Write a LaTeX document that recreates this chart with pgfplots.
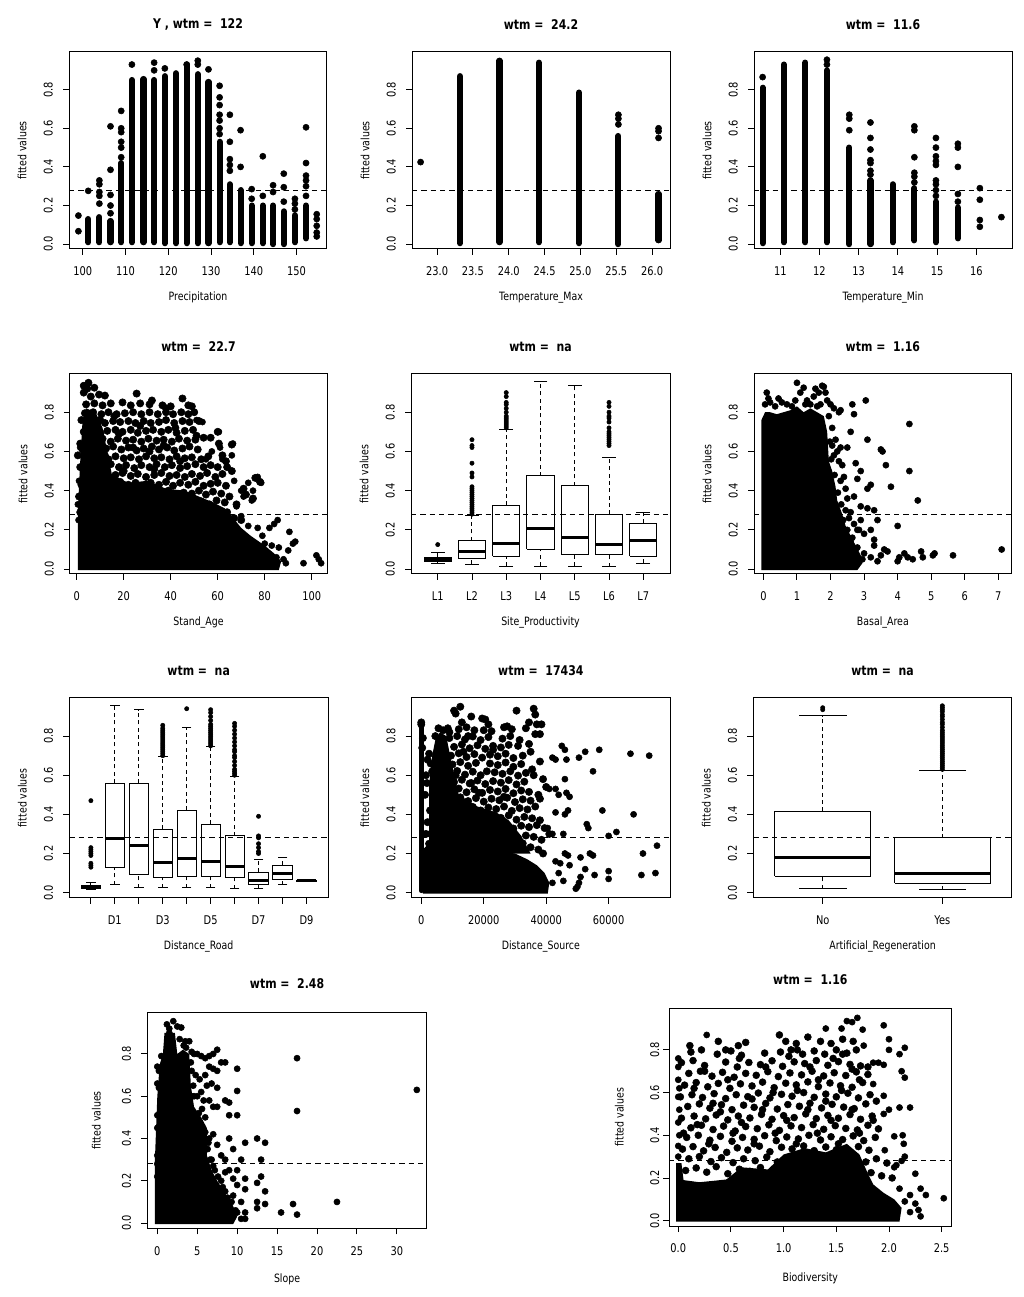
\documentclass[border=0pt]{standalone}
\usepackage{fontspec}
\setmainfont{DejaVu Sans}[FakeStretch=0.82]
\usepackage{pgfplots}
\pgfplotsset{compat=1.18}
\newcommand{\tickf}{\fontsize{9}{10}\selectfont}
\newcommand{\labf}{\fontsize{8.6}{10}\selectfont}
\newcommand{\titf}{\bfseries\fontsize{10}{11}\selectfont}
\pgfplotsset{
  ylab/.style={every axis y label/.style={at={(axis description cs:0,0.5)}, xshift=#1, rotate=90, anchor=center, font=\labf}},
  rp/.style={
    scale only axis, anchor=south west, clip=true,
    axis line style={line width=0.75pt, black},
    tick style={line width=0.7pt, black},
    tick align=outside, major tick length=4.5pt, tick pos=left,
    minor tick num=0, scaled x ticks=false, scaled y ticks=false,
    /pgf/number format/assume math mode=true,
    ymin=-0.025, ymax=0.995,
    ytick={0,0.2,0.4,0.6,0.8}, yticklabels={0.0,0.2,0.4,0.6,0.8},
    yticklabel style={rotate=90, anchor=south, font=\tickf},
    xticklabel style={font=\tickf},
    xticklabel shift=5.5pt, yticklabel shift=4.2pt,
    ylabel={fitted values},
    every axis x label/.style={at={(axis description cs:0.5,0)}, anchor=center, yshift=-36.4pt, font=\labf},
    ylab=-35.25pt,
    every axis title/.style={at={(axis description cs:0.5,1)}, anchor=center, yshift=20.5pt, font=\titf},
  },
  dashref/.style={black, line width=0.7pt, dash pattern=on 4pt off 3pt},
  col/.style={black, line width=4.6pt, line cap=round, unbounded coords=jump},
  dots/.style={only marks, mark=*, mark size=2.3pt, black, mark options={draw=none, fill=black}},
  odots/.style={only marks, mark=*, mark size=1.6pt, black, mark options={draw=none, fill=black}},
  blob/.style={draw=none, fill=black},
  bxs/.style={black, line width=0.75pt, unbounded coords=jump},
  meds/.style={black, line width=2.2pt, unbounded coords=jump},
  whs/.style={black, line width=0.75pt, dash pattern=on 3pt off 2.5pt, unbounded coords=jump},
  caps/.style={only marks, mark=-, black, mark options={line width=0.75pt}},
}
\begin{document}
\begin{tikzpicture}
\path[use as bounding box] (0,0) rectangle (768pt,972.75pt);

% ---------------- P1 Precipitation
\begin{axis}[rp, at={(51.75pt,786pt)}, width=193.5pt, height=147.75pt,
  xmin=96.8, xmax=157.1, xtick={100,110,120,130,140,150}, xticklabels={100,110,120,130,140,150},
  xlabel={Precipitation}, title={Y , wtm = \ 122}]
\addplot[dashref] coordinates {(96.8,0.28) (157.1,0.28)};
\addplot[col] coordinates {
(101.3,0.01)(101.3,0.13)(nan,nan)(103.9,0.01)(103.9,0.14)(nan,nan)(106.5,0.01)(106.5,0.12)(nan,nan)
(109.0,0.01)(109.0,0.42)(nan,nan)(111.5,0.01)(111.5,0.85)(nan,nan)(114.2,0.01)(114.2,0.855)(nan,nan)
(116.7,0.01)(116.7,0.85)(nan,nan)(119.2,0.005)(119.2,0.87)(nan,nan)(121.8,0.005)(121.8,0.885)(nan,nan)
(124.3,0.005)(124.3,0.93)(nan,nan)(126.9,0.005)(126.9,0.88)(nan,nan)(129.4,0.005)(129.4,0.84)(nan,nan)
(132.0,0.01)(132.0,0.53)(nan,nan)(134.4,0.01)(134.4,0.31)(nan,nan)(136.9,0.005)(136.9,0.28)(nan,nan)
(139.5,0.005)(139.5,0.2)(nan,nan)(142.1,0.005)(142.1,0.2)(nan,nan)(144.5,0.0)(144.5,0.2)(nan,nan)
(147.0,0.0)(147.0,0.17)(nan,nan)(149.6,0.01)(149.6,0.15)(nan,nan)(152.2,0.03)(152.2,0.2)};
\addplot[dots] coordinates {
(99.0,0.148)(99.0,0.067)(101.3,0.276)(103.9,0.21)(103.9,0.25)(103.9,0.27)(103.9,0.31)(103.9,0.33)
(106.5,0.16)(106.5,0.2)(106.5,0.255)(106.5,0.385)(106.5,0.61)(109.0,0.45)(109.0,0.5)(109.0,0.53)
(109.0,0.58)(109.0,0.6)(109.0,0.69)(111.5,0.93)(116.7,0.9)(116.7,0.94)(119.2,0.91)(124.3,0.93)
(126.9,0.93)(126.9,0.95)(129.4,0.905)(132.0,0.57)(132.0,0.6)(132.0,0.64)(132.0,0.67)(132.0,0.72)
(132.0,0.76)(132.0,0.82)(134.4,0.38)(134.4,0.41)(134.4,0.44)(134.4,0.53)(134.4,0.67)(136.9,0.40)
(136.9,0.59)(139.5,0.235)(139.5,0.285)(142.1,0.25)(142.1,0.455)(144.5,0.27)(144.5,0.305)(147.0,0.22)
(147.0,0.295)(147.0,0.365)(149.6,0.18)(149.6,0.21)(149.6,0.235)(152.2,0.25)(152.2,0.3)(152.2,0.33)
(152.2,0.355)(152.2,0.42)(152.2,0.605)(154.7,0.04)(154.7,0.06)(154.7,0.095)(154.7,0.13)(154.7,0.155)};
\end{axis}

% ---------------- P2 Temperature_Max
\begin{axis}[rp, at={(309pt,786pt)}, width=193.5pt, height=147.75pt,
  xmin=22.65, xmax=26.25, xtick={23,23.5,24,24.5,25,25.5,26}, xticklabels={23.0,23.5,24.0,24.5,25.0,25.5,26.0},
  xlabel={Temperature\_Max}, title={wtm = \ 24.2}]
\addplot[dashref] coordinates {(22.65,0.28) (26.25,0.28)};
\addplot[col] coordinates {
(23.32,0.005)(23.32,0.87)(nan,nan)(23.87,0.01)(23.87,0.95)(nan,nan)(24.42,0.01)(24.42,0.94)(nan,nan)
(24.98,0.005)(24.98,0.785)(nan,nan)(25.53,0.0)(25.53,0.56)(nan,nan)(26.09,0.02)(26.09,0.26)};
\addplot[dots] coordinates {(22.77,0.425)(25.53,0.62)(25.53,0.65)(25.53,0.67)(26.09,0.55)(26.09,0.585)(26.09,0.6)};
\end{axis}

% ---------------- P3 Temperature_Min
\begin{axis}[rp, at={(565.5pt,786pt)}, width=193.5pt, height=147.75pt,
  xmin=10.33, xmax=16.91, xtick={11,12,13,14,15,16}, xticklabels={11,12,13,14,15,16},
  xlabel={Temperature\_Min}, title={wtm = \ 11.6}]
\addplot[dashref] coordinates {(10.33,0.28) (16.91,0.28)};
\addplot[col] coordinates {
(10.55,0.005)(10.55,0.81)(nan,nan)(11.09,0.01)(11.09,0.93)(nan,nan)(11.64,0.01)(11.64,0.94)(nan,nan)
(12.19,0.01)(12.19,0.9)(nan,nan)(12.76,0.0)(12.76,0.5)(nan,nan)(13.30,0.0)(13.30,0.33)(nan,nan)
(13.87,0.01)(13.87,0.31)(nan,nan)(14.42,0.02)(14.42,0.29)(nan,nan)(14.97,0.01)(14.97,0.22)(nan,nan)
(15.53,0.03)(15.53,0.19)};
\addplot[dots] coordinates {
(10.55,0.865)(12.19,0.93)(12.19,0.955)(12.76,0.59)(12.76,0.65)(12.76,0.67)(13.30,0.36)(13.30,0.38)
(13.30,0.42)(13.30,0.435)(13.30,0.49)(13.30,0.55)(13.30,0.63)(14.42,0.32)(14.42,0.35)(14.42,0.37)
(14.42,0.45)(14.42,0.59)(14.42,0.61)(14.97,0.25)(14.97,0.28)(14.97,0.31)(14.97,0.33)(14.97,0.41)
(14.97,0.43)(14.97,0.455)(14.97,0.5)(14.97,0.55)(15.53,0.22)(15.53,0.26)(15.53,0.4)(15.53,0.5)
(15.53,0.52)(16.09,0.09)(16.09,0.125)(16.09,0.23)(16.09,0.29)(16.64,0.14)};
\end{axis}

% ---------------- P4 Stand_Age
\begin{axis}[rp, at={(52.5pt,542.25pt)}, width=192.75pt, height=150pt,
  xmin=-2.85, xmax=106.5, xtick={0,20,40,60,80,100}, xticklabels={0,20,40,60,80,100},
  xlabel={Stand\_Age}, title={wtm = \ 22.7}]
\addplot[dashref] coordinates {(-2.85,0.28) (106.5,0.28)};
\addplot[blob] coordinates {(0.5,-0.005)(0.5,0.3)(1.5,0.55)(2.5,0.76)(4,0.82)(8,0.8)(11,0.72)(13,0.6)(15,0.48)(22,0.44)(30,0.45)(38,0.41)(46,0.4)(52,0.37)(58,0.34)(63,0.31)(66,0.27)(70,0.21)(74,0.17)(80,0.12)(84,0.08)(87,0.04)(86,-0.005)};
\addplot[dots, mark size=2.75pt] coordinates {
(1.5,0.29)(4.5,0.30)(7.5,0.28)(10.5,0.30)(13,0.285)(16.5,0.3)(19.5,0.275)(22.5,0.3)(25.5,0.29)(29,0.275)(32,0.3)(35,0.285)(38.5,0.27)(41.5,0.3)(44.5,0.28)(48,0.29)(51,0.27)(54,0.3)(57.5,0.28)(60.5,0.27)(64,0.29)(67,0.26)(70,0.25)
(2.5,0.34)(6,0.345)(9,0.335)(12,0.35)(15,0.34)(18.5,0.33)(21,0.345)(24.5,0.35)(28,0.335)(31,0.345)(34,0.33)(37,0.35)(40.5,0.34)(43.5,0.33)(47,0.35)(50,0.335)(53,0.345)(56.5,0.33)(59.5,0.35)(63,0.34)(68,0.33)(72,0.38)(75,0.36)
(1,0.37)(4,0.39)(7.5,0.385)(10.5,0.395)(14,0.38)(17,0.39)(20,0.4)(23,0.385)(26.5,0.39)(29.5,0.38)(33,0.395)(36,0.385)(39,0.4)(42,0.38)(45.5,0.39)(49,0.385)(52,0.4)(55,0.38)(58,0.395)(61.5,0.385)(65,0.37)(71,0.41)
(2,0.43)(5.5,0.44)(9,0.425)(12,0.44)(15.5,0.43)(18.5,0.445)(22,0.43)(25,0.44)(28,0.425)(31.5,0.44)(35,0.43)(38,0.445)(41,0.425)(44,0.44)(47.5,0.43)(50.5,0.445)(54,0.425)(57,0.435)(60,0.44)(63.5,0.425)(76,0.465)(78,0.445)
(3,0.48)(6.5,0.475)(10,0.485)(13,0.47)(16.5,0.48)(19.5,0.49)(23,0.475)(26,0.485)(29.5,0.47)(33,0.48)(36,0.49)(39.5,0.475)(42.5,0.48)(46,0.47)(49,0.485)(52.5,0.475)(55.5,0.49)(59,0.47)(62,0.485)(66,0.5)
(1.5,0.52)(5,0.53)(8,0.515)(11.5,0.525)(14.5,0.535)(18,0.52)(21,0.53)(24.5,0.515)(27.5,0.53)(31,0.52)(34,0.535)(37.5,0.52)(40.5,0.53)(44,0.515)(47,0.525)(50.5,0.535)(54,0.52)(57,0.53)(60,0.52)(64,0.52)
(0.5,0.58)(3.5,0.57)(7,0.565)(10,0.575)(13.5,0.56)(16.5,0.575)(20,0.565)(23,0.57)(26.5,0.56)(29.5,0.575)(33,0.565)(36,0.57)(39.5,0.56)(42.5,0.575)(46,0.565)(49,0.57)(53,0.56)(56,0.575)(62,0.58)(63.5,0.55)
(2.5,0.61)(6,0.62)(9,0.605)(12.5,0.615)(15.5,0.625)(19,0.61)(22,0.62)(25.5,0.605)(28.5,0.615)(32,0.625)(35,0.61)(38.5,0.62)(41.5,0.605)(45,0.615)(48,0.625)(51.5,0.61)(60.5,0.64)(66,0.635)
(1.5,0.64)(4.5,0.665)(8,0.655)(11,0.665)(14.5,0.65)(17.5,0.665)(21,0.655)(24,0.66)(27.5,0.65)(30.5,0.665)(34,0.655)(37,0.66)(40.5,0.65)(43.5,0.665)(47,0.655)(50.5,0.66)(54,0.67)(57,0.67)
(3,0.70)(6.5,0.71)(10,0.695)(13,0.705)(16.5,0.71)(19.5,0.7)(23,0.71)(26,0.695)(29.5,0.705)(32.5,0.71)(36,0.7)(39,0.71)(42.5,0.695)(46,0.705)(49.5,0.71)(60,0.70)
(2,0.76)(5.5,0.745)(9,0.755)(12,0.745)(15.5,0.755)(18.5,0.75)(22,0.755)(25,0.745)(28.5,0.755)(31.5,0.745)(35,0.75)(38,0.76)(41.5,0.745)(45,0.755)(48,0.75)(52,0.755)
(3.5,0.795)(7,0.8)(10.5,0.79)(13.5,0.8)(17,0.79)(20.5,0.795)(24,0.8)(27.5,0.79)(31,0.8)(34.5,0.79)(38,0.8)(41,0.79)(44.5,0.8)(47.5,0.79)(50,0.8)
(4,0.84)(7.5,0.845)(11,0.835)(14.5,0.845)(19.5,0.85)(23,0.835)(27,0.845)(31,0.84)(36.5,0.835)(40,0.83)(45,0.87)(47.5,0.835)(49,0.83)
(3,0.9)(6,0.88)(9.5,0.89)(12,0.885)(25.5,0.895)(32,0.86)(38,0.82)(3,0.935)(5,0.95)(7.5,0.925)(4.5,0.92)
(5,0.6)(8.5,0.68)(12,0.58)(18,0.69)(27,0.73)(31,0.6)(42,0.72)(44,0.55)(20,0.5)(33,0.51)(8,0.5)(5,0.72)(10,0.76)(16,0.78)(24,0.62)(37,0.63)(51,0.68)(14,0.45)};
\addplot[dots] coordinates {
(70,0.27)(73,0.22)(77,0.21)(79,0.17)(80,0.13)(82,0.21)(84,0.23)(85.5,0.25)(83,0.12)(86,0.11)(88,0.05)(90,0.095)(90.5,0.19)(92,0.13)(93,0.14)(96.5,0.03)(102,0.07)(103,0.05)(104,0.03)(89,0.03)(85,0.06)(81,0.06)
(68,0.32)(71,0.37)(74.5,0.35)(67,0.45)(66,0.58)(62,0.56)(61,0.62)(57.5,0.6)(55,0.56)(53.5,0.75)(51,0.76)(60.5,0.7)(66.5,0.64)(77,0.47)(78.5,0.44)(75,0.4)(73,0.44)(70,0.4)
(0.5,0.33)(0.8,0.25)(1,0.45)(1.5,0.62)};
\end{axis}

% ---------------- P5 Site_Productivity
\begin{axis}[rp, at={(308.25pt,542.25pt)}, width=194.25pt, height=150pt,
  xmin=0.22, xmax=7.78, xtick={1,2,3,4,5,6,7}, xticklabels={L1,L2,L3,L4,L5,L6,L7},
  xlabel={Site\_Productivity}, title={wtm = \ na}]
\addplot[bxs] coordinates {
(0.6,0.04)(1.4,0.04)(1.4,0.06)(0.6,0.06)(0.6,0.04)(nan,nan)
(1.6,0.055)(2.4,0.055)(2.4,0.145)(1.6,0.145)(1.6,0.055)(nan,nan)
(2.6,0.065)(3.4,0.065)(3.4,0.325)(2.6,0.325)(2.6,0.065)(nan,nan)
(3.6,0.1)(4.4,0.1)(4.4,0.475)(3.6,0.475)(3.6,0.1)(nan,nan)
(4.6,0.075)(5.4,0.075)(5.4,0.425)(4.6,0.425)(4.6,0.075)(nan,nan)
(5.6,0.072)(6.4,0.072)(6.4,0.28)(5.6,0.28)(5.6,0.072)(nan,nan)
(6.6,0.065)(7.4,0.065)(7.4,0.235)(6.6,0.235)(6.6,0.065)};
\addplot[meds] coordinates {(0.6,0.05)(1.4,0.05)(nan,nan)(1.6,0.088)(2.4,0.088)(nan,nan)(2.6,0.13)(3.4,0.13)(nan,nan)(3.6,0.205)(4.4,0.205)(nan,nan)(4.6,0.16)(5.4,0.16)(nan,nan)(5.6,0.125)(6.4,0.125)(nan,nan)(6.6,0.145)(7.4,0.145)};
\addplot[whs] coordinates {
(1,0.03)(1,0.04)(nan,nan)(1,0.06)(1,0.085)(nan,nan)(2,0.025)(2,0.055)(nan,nan)(2,0.145)(2,0.272)(nan,nan)
(3,0.015)(3,0.065)(nan,nan)(3,0.325)(3,0.71)(nan,nan)(4,0.015)(4,0.1)(nan,nan)(4,0.475)(4,0.955)(nan,nan)
(5,0.015)(5,0.075)(nan,nan)(5,0.425)(5,0.935)(nan,nan)(6,0.012)(6,0.072)(nan,nan)(6,0.28)(6,0.57)(nan,nan)
(7,0.03)(7,0.065)(nan,nan)(7,0.235)(7,0.29)};
\addplot[caps, mark size=5.1pt] coordinates {(1,0.03)(1,0.085)(2,0.025)(2,0.272)(3,0.015)(3,0.71)(4,0.015)(4,0.955)(5,0.015)(5,0.935)(6,0.012)(6,0.57)(7,0.03)(7,0.29)};
\addplot[odots] coordinates {(1,0.125)
(2,0.28)(2,0.29)(2,0.30)(2,0.31)(2,0.32)(2,0.33)(2,0.34)(2,0.35)(2,0.36)(2,0.37)(2,0.38)(2,0.39)(2,0.40)(2,0.41)(2,0.42)(2,0.47)(2,0.49)(2,0.54)(2,0.62)(2,0.63)(2,0.66)
(3,0.72)(3,0.73)(3,0.74)(3,0.75)(3,0.76)(3,0.77)(3,0.78)(3,0.8)(3,0.82)(3,0.84)(3,0.85)(3,0.88)(3,0.9)
(6,0.63)(6,0.64)(6,0.65)(6,0.66)(6,0.67)(6,0.68)(6,0.69)(6,0.70)(6,0.72)(6,0.75)(6,0.77)(6,0.78)(6,0.8)(6,0.83)(6,0.85)};
\addplot[dashref] coordinates {(0.22,0.28) (7.78,0.28)};
\end{axis}

% ---------------- P6 Basal_Area
\begin{axis}[rp, at={(565.5pt,542.25pt)}, width=193.3pt, height=150pt,
  xmin=-0.28, xmax=7.4, xtick={0,1,2,3,4,5,6,7}, xticklabels={0,1,2,3,4,5,6,7},
  xlabel={Basal\_Area}, title={wtm = \ 1.16}]
\addplot[dashref] coordinates {(-0.28,0.28) (7.4,0.28)};
\addplot[blob] coordinates {(-0.06,-0.005)(-0.06,0.76)(0.05,0.8)(0.2,0.8)(0.4,0.79)(0.6,0.8)(0.8,0.81)(1.0,0.83)(1.2,0.8)(1.4,0.82)(1.6,0.8)(1.8,0.78)(1.9,0.7)(1.95,0.55)(2.05,0.5)(2.15,0.42)(2.2,0.35)(2.35,0.28)(2.45,0.22)(2.6,0.17)(2.75,0.12)(2.9,0.07)(2.95,0.03)(2.8,-0.005)};
\addplot[dots] coordinates {
(0.1,0.9)(0.15,0.87)(0.05,0.84)(0.2,0.85)(0.35,0.83)(0.45,0.87)(0.55,0.85)(0.7,0.84)(0.85,0.83)(0.95,0.86)(1.0,0.95)(1.1,0.9)(1.2,0.925)(1.3,0.86)(1.4,0.84)(1.5,0.88)(1.55,0.92)(1.65,0.9)(1.75,0.935)(1.8,0.93)(1.85,0.9)(1.9,0.86)(1.7,0.84)(1.6,0.83)(1.25,0.84)
(1.95,0.78)(2.0,0.84)(2.1,0.82)(2.25,0.8)(2.3,0.81)(2.05,0.72)(2.15,0.66)(2.2,0.6)(2.3,0.62)(2.25,0.55)(2.35,0.53)(2.4,0.47)(2.3,0.45)(2.45,0.41)(2.5,0.36)(2.05,0.63)(2.1,0.58)(2.45,0.3)(2.55,0.26)(2.6,0.29)(2.7,0.23)(2.85,0.2)
(2.5,0.62)(2.6,0.7)(2.65,0.84)(2.7,0.79)(2.75,0.54)(2.8,0.46)(2.7,0.37)(2.9,0.5)(3.05,0.86)(3.1,0.66)(2.9,0.32)(3.1,0.41)(3.2,0.43)(3.1,0.31)(3.3,0.3)(3.5,0.61)(3.55,0.6)(3.65,0.53)(3.8,0.42)(4.0,0.22)(3.4,0.25)(4.35,0.74)(4.35,0.5)(4.6,0.35)
(3.3,0.15)(3.2,0.2)(3.5,0.07)(3.6,0.1)(3.7,0.09)(3.4,0.04)(3.0,0.08)(3.2,0.06)(4.0,0.04)(4.05,0.06)(4.2,0.08)(4.3,0.06)(4.45,0.05)(4.75,0.06)(4.7,0.09)(5.05,0.07)(5.1,0.08)(5.65,0.07)(7.1,0.1)(2.9,0.25)(2.8,0.2)(2.6,0.14)(2.75,0.1)(3.0,0.18)(3.3,0.12)
(1.98,0.65)(2.02,0.56)(2.12,0.48)(2.22,0.39)(2.32,0.33)(2.5,0.2)(2.65,0.16)(2.8,0.11)(2.95,0.05)(2.38,0.25)};
\end{axis}

% ---------------- P7 Distance_Road
\begin{axis}[rp, at={(52pt,299.6pt)}, width=194pt, height=149.7pt,
  xmin=0.1, xmax=10.9, xtick={1,2,3,4,5,6,7,8,9,10}, xticklabels={,D1,,D3,,D5,,D7,,D9},
  xlabel={Distance\_Road}, title={wtm = \ na}]
\addplot[bxs] coordinates {
(0.6,0.02)(1.4,0.02)(1.4,0.035)(0.6,0.035)(0.6,0.02)(nan,nan)
(1.6,0.13)(2.4,0.13)(2.4,0.56)(1.6,0.56)(1.6,0.13)(nan,nan)
(2.6,0.095)(3.4,0.095)(3.4,0.56)(2.6,0.56)(2.6,0.095)(nan,nan)
(3.6,0.075)(4.4,0.075)(4.4,0.325)(3.6,0.325)(3.6,0.075)(nan,nan)
(4.6,0.083)(5.4,0.083)(5.4,0.42)(4.6,0.42)(4.6,0.083)(nan,nan)
(5.6,0.08)(6.4,0.08)(6.4,0.35)(5.6,0.35)(5.6,0.08)(nan,nan)
(6.6,0.077)(7.4,0.077)(7.4,0.29)(6.6,0.29)(6.6,0.077)(nan,nan)
(7.6,0.04)(8.4,0.04)(8.4,0.105)(7.6,0.105)(7.6,0.04)(nan,nan)
(8.6,0.065)(9.4,0.065)(9.4,0.14)(8.6,0.14)(8.6,0.065)(nan,nan)
(9.6,0.058)(10.4,0.058)(10.4,0.062)(9.6,0.062)(9.6,0.058)};
\addplot[meds] coordinates {(0.6,0.027)(1.4,0.027)(nan,nan)(1.6,0.275)(2.4,0.275)(nan,nan)(2.6,0.24)(3.4,0.24)(nan,nan)(3.6,0.155)(4.4,0.155)(nan,nan)(4.6,0.175)(5.4,0.175)(nan,nan)(5.6,0.16)(6.4,0.16)(nan,nan)(6.6,0.135)(7.4,0.135)(nan,nan)(7.6,0.06)(8.4,0.06)(nan,nan)(8.6,0.1)(9.4,0.1)(nan,nan)(9.6,0.06)(10.4,0.06)};
\addplot[whs] coordinates {
(1,0.015)(1,0.02)(nan,nan)(1,0.035)(1,0.05)(nan,nan)(2,0.04)(2,0.13)(nan,nan)(2,0.56)(2,0.955)(nan,nan)
(3,0.025)(3,0.095)(nan,nan)(3,0.56)(3,0.935)(nan,nan)(4,0.025)(4,0.075)(nan,nan)(4,0.325)(4,0.695)(nan,nan)
(5,0.025)(5,0.083)(nan,nan)(5,0.42)(5,0.845)(nan,nan)(6,0.025)(6,0.08)(nan,nan)(6,0.35)(6,0.745)(nan,nan)
(7,0.02)(7,0.077)(nan,nan)(7,0.29)(7,0.595)(nan,nan)(8,0.02)(8,0.04)(nan,nan)(8,0.105)(8,0.17)(nan,nan)
(9,0.04)(9,0.065)(nan,nan)(9,0.14)(9,0.18)};
\addplot[caps, mark size=3.6pt] coordinates {(1,0.015)(1,0.05)(2,0.04)(2,0.955)(3,0.025)(3,0.935)(4,0.025)(4,0.695)(5,0.025)(5,0.845)(6,0.025)(6,0.745)(7,0.02)(7,0.595)(8,0.02)(8,0.17)(9,0.04)(9,0.18)};
\addplot[odots] coordinates {
(1,0.13)(1,0.14)(1,0.15)(1,0.19)(1,0.2)(1,0.21)(1,0.22)(1,0.23)(1,0.47)
(4,0.70)(4,0.71)(4,0.72)(4,0.73)(4,0.74)(4,0.75)(4,0.76)(4,0.77)(4,0.78)(4,0.79)(4,0.80)(4,0.81)(4,0.82)(4,0.83)(4,0.84)(4,0.855)
(5,0.94)
(6,0.75)(6,0.76)(6,0.77)(6,0.78)(6,0.79)(6,0.80)(6,0.81)(6,0.82)(6,0.83)(6,0.84)(6,0.85)(6,0.86)(6,0.88)(6,0.90)(6,0.92)(6,0.935)
(7,0.60)(7,0.61)(7,0.62)(7,0.63)(7,0.65)(7,0.67)(7,0.69)(7,0.70)(7,0.72)(7,0.73)(7,0.75)(7,0.77)(7,0.79)(7,0.81)(7,0.83)(7,0.85)(7,0.865)
(8,0.2)(8,0.21)(8,0.23)(8,0.25)(8,0.28)(8,0.29)(8,0.39)};
\addplot[dashref] coordinates {(0.1,0.28) (10.9,0.28)};
\end{axis}

% ---------------- P8 Distance_Source
\begin{axis}[rp, at={(308.8pt,299.6pt)}, width=193.7pt, height=149.7pt,
  xmin=-3060, xmax=79660, xtick={0,20000,40000,60000}, xticklabels={0,20000,40000,60000},
  xlabel={Distance\_Source}, title={wtm = \ 17434}]
\addplot[dashref] coordinates {(-3060,0.28) (79660,0.28)};
\addplot[blob] coordinates {(500,-0.005)(500,0.22)(3000,0.26)(8000,0.24)(14000,0.22)(20000,0.23)(26000,0.21)(30000,0.2)(34000,0.17)(37000,0.14)(39500,0.1)(41000,0.05)(40500,-0.005)};
\addplot[blob] coordinates {(2500,0.2)(2500,0.55)(3500,0.7)(4500,0.78)(6000,0.82)(8000,0.8)(9500,0.68)(12000,0.5)(18000,0.44)(24000,0.41)(28000,0.37)(32000,0.29)(35000,0.2)};
\addplot[col, line width=3.6pt] coordinates {(0,0.01)(0,0.85)};
\addplot[dots, mark size=2.75pt] coordinates {
(10000,.25)(12500,.262)(15000,.243)(17500,.258)(20000,.24)(22500,.255)(25000,.247)(27500,.26)(30000,.238)(32500,.252)(35000,.232)(37500,.22)(39000,.2)
(11000,.29)(13500,.302)(16000,.283)(18500,.298)(21000,.28)(23500,.295)(26000,.287)(28500,.3)(31000,.278)(33500,.292)(36000,.285)(38500,.27)(41000,.3)
(9500,.34)(12000,.352)(14500,.333)(17000,.348)(19500,.33)(22000,.345)(24500,.337)(27000,.35)(29500,.328)(32000,.342)(34500,.335)(37000,.345)(39500,.33)
(10500,.385)(13000,.397)(15500,.378)(18000,.393)(20500,.375)(23000,.39)(25500,.382)(28000,.395)(30500,.373)(33000,.387)(35500,.38)(38000,.37)
(9000,.43)(11500,.442)(14000,.423)(16500,.438)(19000,.42)(21500,.435)(24000,.427)(26500,.44)(29000,.418)(31500,.432)(34000,.425)(36500,.44)
(10000,.475)(12500,.487)(15000,.468)(17500,.483)(20000,.465)(22500,.48)(25000,.472)(27500,.485)(30000,.463)(32500,.477)(35000,.47)(38000,.48)
(9500,.52)(12000,.532)(14500,.513)(17000,.528)(19500,.51)(22000,.525)(24500,.517)(27000,.53)(29500,.508)(32000,.522)(34500,.515)(37500,.5)(40000,.54)
(10500,.565)(13000,.577)(15500,.558)(18000,.573)(20500,.555)(23000,.57)(25500,.562)(28000,.575)(30500,.553)(33000,.567)(36000,.6)(39000,.58)
(9000,.61)(11500,.622)(14000,.603)(16500,.618)(19000,.6)(23500,.615)(26000,.607)(28500,.62)(31000,.598)(33500,.612)(35500,.63)
(10000,.655)(12500,.667)(15000,.648)(17500,.663)(22000,.66)(24500,.652)(27000,.665)(29500,.643)(32000,.657)(38000,.67)
(9500,.70)(12000,.712)(14500,.693)(17000,.708)(19500,.69)(22000,.705)(24500,.697)(27000,.71)(29500,.688)(32500,.70)(35000,.72)
(10500,.745)(13000,.757)(15500,.738)(18000,.753)(20500,.735)(23000,.75)(25500,.742)(28000,.755)(31000,.75)(34500,.76)
(9000,.79)(11500,.80)(14000,.783)(16500,.798)(19000,.78)(21500,.795)(26000,.787)(28500,.80)(31500,.78)(36500,.81)(38000,.81)
(12000,.835)(14500,.845)(17000,.83)(20000,.83)(22500,.825)(26500,.845)(29000,.835)(33500,.84)(37000,.86)
(13000,.87)(16000,.9)(19500,.89)(21500,.86)(27500,.85)(34500,.87)(38500,.86)(10500,.93)(11000,.915)(12500,.95)(30500,.93)(36000,.94)(36500,.91)(20500,.885)
(1500,.6)(2000,.68)(1200,.5)(2500,.71)(1800,.56)(1500,.3)(2000,.36)(2800,.42)(3500,.62)(3000,.66)(4500,.8)(5500,.84)(7000,.83)(8500,.84)(9000,.82)(0,.87)(0,.86)(500,.79)(300,.74)(3000,.3)(2500,.25)
(11000,.6)(16000,.56)(21000,.62)(13500,.72)(18500,.51)(26500,.49)(23000,.73)(15000,.8)(11000,.45)};
\addplot[dots] coordinates {
(42000,0.69)(43000,0.68)(45000,0.75)(46000,0.73)(46500,0.68)(50500,0.69)(52500,0.72)(57000,0.73)(67000,0.71)(73000,0.7)(55000,0.62)(40000,0.54)(41000,0.53)(43000,0.53)(44000,0.5)(46000,0.58)(46500,0.51)(47500,0.49)(46000,0.4)(47000,0.42)(43000,0.41)(58000,0.42)(68000,0.4)(53000,0.35)(53500,0.33)(62500,0.31)(60000,0.29)(45500,0.3)(40500,0.33)(42000,0.3)
(71000,0.2)(75500,0.24)(46000,0.2)(47000,0.19)(51000,0.18)(54000,0.2)(55000,0.19)(43000,0.16)(44500,0.15)(47500,0.14)(52500,0.12)(51000,0.08)(55500,0.09)(60000,0.11)(60000,0.07)(70500,0.09)(75000,0.1)(50000,0.03)(49500,0.02)(50500,0.05)(44000,0.1)(45500,0.06)(42000,0.05)};
\end{axis}

% ---------------- P9 Artificial_Regeneration
\begin{axis}[rp, at={(565pt,299.6pt)}, width=193.8pt, height=149.7pt,
  xmin=0.42, xmax=2.58, xtick={1,2}, xticklabels={No,Yes},
  xlabel={Artificial\_Regeneration}, title={wtm = \ na}]
\addplot[bxs] coordinates {(0.6,0.085)(1.4,0.085)(1.4,0.415)(0.6,0.415)(0.6,0.085)(nan,nan)(1.6,0.048)(2.4,0.048)(2.4,0.28)(1.6,0.28)(1.6,0.048)};
\addplot[meds] coordinates {(0.6,0.18)(1.4,0.18)(nan,nan)(1.6,0.1)(2.4,0.1)};
\addplot[whs] coordinates {(1,0.02)(1,0.085)(nan,nan)(1,0.415)(1,0.905)(nan,nan)(2,0.015)(2,0.048)(nan,nan)(2,0.28)(2,0.625)};
\addplot[caps, mark size=17.85pt] coordinates {(1,0.02)(1,0.905)(2,0.015)(2,0.625)};
\addplot[odots] coordinates {(1,0.935)(1,0.945)
(2,0.63)(2,0.64)(2,0.65)(2,0.66)(2,0.67)(2,0.68)(2,0.69)(2,0.70)(2,0.71)(2,0.72)(2,0.73)(2,0.74)(2,0.75)(2,0.76)(2,0.77)(2,0.78)(2,0.79)(2,0.80)(2,0.81)(2,0.82)(2,0.83)(2,0.845)(2,0.86)(2,0.87)(2,0.885)(2,0.9)(2,0.91)(2,0.925)(2,0.935)(2,0.945)(2,0.955)};
\addplot[dashref] coordinates {(0.42,0.28) (2.58,0.28)};
\end{axis}

% ---------------- P10 Slope
\begin{axis}[rp, at={(110.5pt,51.5pt)}, width=209.6pt, height=161.7pt,
  xmin=-1.25, xmax=33.75, xtick={0,5,10,15,20,25,30}, xticklabels={0,5,10,15,20,25,30},
  xlabel={Slope}, title={wtm = \ 2.48}, ylab=-38.3pt,
  every axis x label/.append style={yshift=-1.7pt}, every axis title/.append style={yshift=1.5pt}]
\addplot[dashref] coordinates {(-1.25,0.28) (33.75,0.28)};
\addplot[blob] coordinates {(-0.3,-0.005)(-0.3,0.3)(0,0.6)(0.3,0.75)(0.7,0.8)(0.9,0.9)(2.2,0.9)(2.5,0.8)(3.2,0.82)(4.0,0.8)(4.2,0.65)(4.6,0.55)(5.5,0.5)(6.2,0.45)(6.2,0.32)(6.8,0.25)(7.5,0.2)(8.5,0.14)(9.5,0.08)(10,0.03)(9.5,-0.005)};
\addplot[dots] coordinates {
(0,0.74)(0,0.66)(0,0.51)(0,0.45)(0,0.32)(0,0.28)(0,0.22)(0.2,0.64)
(0.5,0.79)(1.2,0.94)(1.5,0.92)(1.5,0.9)(2.0,0.955)(2.5,0.93)(3.0,0.925)(2.8,0.87)(3.3,0.84)(3.6,0.83)(4.0,0.86)(4.3,0.81)(4.6,0.8)(5.0,0.8)(5.5,0.79)(6.0,0.78)(6.5,0.79)(7.0,0.8)(7.5,0.82)
(6.0,0.7)(6.5,0.74)(7.0,0.73)(7.5,0.72)(8.0,0.76)(8.5,0.76)(6.2,0.65)(6.8,0.66)(7.5,0.64)(5.5,0.62)(5.0,0.6)(4.5,0.65)(4.8,0.7)(5.3,0.68)(5.8,0.58)(6.5,0.58)(7.0,0.55)(7.5,0.55)(4.6,0.6)(4.3,0.72)
(10,0.73)(10,0.625)(8.5,0.58)(9.0,0.57)(9.0,0.51)(10,0.51)(7.0,0.42)(7.5,0.37)(8.0,0.32)(8.5,0.3)(9.5,0.35)(9.0,0.4)(10.5,0.3)(11,0.38)(12.5,0.4)(13.5,0.38)(13,0.3)(11,0.21)(12.5,0.19)(13,0.22)
(10,0.25)(9,0.25)(9.5,0.21)(8.5,0.24)(6.5,0.4)(6.3,0.35)(6.8,0.3)(7.2,0.25)(8.0,0.2)(7.0,0.18)(8.5,0.15)(9.5,0.13)(10,0.18)(10.5,0.1)(11,0.16)(11,0.05)(10,0.05)(12.5,0.07)(12.5,0.1)(13.5,0.09)(13.5,0.15)
(15.5,0.05)(17,0.09)(17.5,0.04)(22.5,0.1)(17.5,0.78)(17.5,0.53)(32.5,0.63)(9,0.08)(8.5,0.05)(10.5,0.02)(11,0.02)
(5.2,0.52)(5.6,0.54)(6.0,0.5)(5.0,0.45)(5.8,0.4)(4.8,0.38)(5.5,0.33)
(4.3,0.6)(4.6,0.5)(5.0,0.48)(5.5,0.46)(6.0,0.43)(6.4,0.38)(6.6,0.3)(7.0,0.27)(7.6,0.22)(8.2,0.17)(8.8,0.12)(9.3,0.1)(9.8,0.06)(3.5,0.86)(4.2,0.76)(0.2,0.72)};
\end{axis}

% ---------------- P11 Biodiversity
\begin{axis}[rp, at={(501.75pt,53.25pt)}, width=212pt, height=163.3pt,
  xmin=-0.088, xmax=2.595, xtick={0,0.5,1,1.5,2,2.5}, xticklabels={0.0,0.5,1.0,1.5,2.0,2.5},
  xlabel={Biodiversity}, title={wtm = \ 1.16}, yticklabel shift=-0.8pt, ylab=-37.3pt,
  every axis x label/.append style={yshift=-2.8pt}, every axis title/.append style={yshift=1.2pt}]
\addplot[dashref] coordinates {(-0.088,0.28) (2.595,0.28)};
\addplot[blob] coordinates {(-0.02,-0.005)(-0.02,0.27)(0.03,0.27)(0.05,0.19)(0.2,0.18)(0.4,0.19)(0.6,0.2)(0.8,0.2)(1.0,0.21)(1.2,0.2)(1.3,0.24)(1.45,0.25)(1.6,0.22)(1.75,0.2)(1.85,0.17)(1.95,0.13)(2.05,0.1)(2.12,0.06)(2.1,-0.005)};
\addplot[blob] coordinates {(0.45,0.19)(0.6,0.25)(0.85,0.24)(1.0,0.31)(1.2,0.34)(1.4,0.32)(1.6,0.36)(1.72,0.31)(1.8,0.22)(1.85,0.17)};
\addplot[dots, mark size=2.6pt] coordinates {
(0.07,0.235)(0.17,0.247)(0.27,0.227)(0.36,0.253)(0.47,0.22)(0.58,0.241)(0.68,0.231)(0.78,0.249)(0.89,0.223)(1.0,0.244)(1.09,0.236)(1.2,0.25)(1.52,0.228)(1.62,0.245)(1.72,0.232)(1.83,0.225)(1.93,0.21)(2.03,0.2)
(0.1,0.29)(0.2,0.3)(0.31,0.277)(0.41,0.295)(0.52,0.272)(0.62,0.29)(0.73,0.281)(0.84,0.298)(0.94,0.275)(1.05,0.292)(1.15,0.283)(1.25,0.3)(1.36,0.278)(1.47,0.293)(1.57,0.28)(1.67,0.297)(1.78,0.275)(1.88,0.29)(1.98,0.27)
(0.04,0.335)(0.14,0.347)(0.24,0.327)(0.35,0.343)(0.46,0.32)(0.56,0.341)(0.66,0.331)(0.77,0.349)(0.87,0.323)(0.98,0.344)(1.08,0.336)(1.19,0.35)(1.29,0.328)(1.4,0.345)(1.5,0.332)(1.61,0.325)(1.71,0.347)(1.81,0.33)
(0.08,0.39)(0.19,0.4)(0.3,0.377)(0.4,0.395)(0.51,0.372)(0.61,0.39)(0.72,0.381)(0.82,0.398)(0.93,0.375)(1.03,0.392)(1.14,0.383)(1.24,0.4)(1.35,0.378)(1.45,0.393)(1.56,0.38)(1.66,0.397)(1.76,0.375)(1.87,0.39)
(0.12,0.435)(0.22,0.447)(0.33,0.427)(0.43,0.443)(0.54,0.42)(0.64,0.441)(0.75,0.431)(0.86,0.449)(0.96,0.423)(1.07,0.444)(1.17,0.436)(1.28,0.45)(1.38,0.428)(1.49,0.445)(1.59,0.432)(1.7,0.425)(1.8,0.447)(1.9,0.43)
(0.03,0.48)(0.15,0.49)(0.26,0.477)(0.36,0.495)(0.47,0.472)(0.57,0.49)(0.68,0.481)(0.79,0.498)(0.89,0.475)(1.0,0.492)(1.1,0.483)(1.21,0.5)(1.31,0.478)(1.42,0.493)(1.52,0.48)(1.63,0.497)(1.73,0.475)(1.84,0.49)
(0.09,0.535)(0.2,0.547)(0.3,0.527)(0.41,0.543)(0.51,0.52)(0.62,0.541)(0.72,0.531)(0.83,0.549)(0.94,0.523)(1.04,0.544)(1.15,0.536)(1.25,0.55)(1.36,0.528)(1.46,0.545)(1.57,0.532)(1.67,0.525)(1.78,0.547)
(0.02,0.58)(0.13,0.59)(0.23,0.577)(0.34,0.595)(0.45,0.572)(0.55,0.59)(0.66,0.581)(0.76,0.598)(0.87,0.575)(0.98,0.592)(1.08,0.583)(1.19,0.6)(1.29,0.578)(1.4,0.593)(1.5,0.58)(1.61,0.597)(1.71,0.575)(1.82,0.59)
(0.06,0.635)(0.17,0.647)(0.28,0.627)(0.38,0.643)(0.49,0.62)(0.59,0.641)(0.7,0.631)(0.8,0.649)(0.91,0.623)(1.02,0.644)(1.12,0.636)(1.23,0.65)(1.33,0.628)(1.44,0.645)(1.54,0.632)(1.65,0.625)(1.75,0.647)
(0.1,0.69)(0.21,0.7)(0.32,0.677)(0.42,0.695)(0.53,0.672)(0.64,0.69)(0.74,0.681)(0.85,0.698)(0.95,0.675)(1.06,0.692)(1.17,0.683)(1.27,0.7)(1.38,0.678)(1.48,0.693)(1.59,0.68)(1.69,0.697)(1.8,0.685)
(0.03,0.74)(0.14,0.75)(0.25,0.727)(0.45,0.743)(0.56,0.72)(0.67,0.741)(0.78,0.731)(0.89,0.749)(0.99,0.723)(1.1,0.744)(1.2,0.736)(1.31,0.75)(1.42,0.728)(1.52,0.745)(1.63,0.732)(1.73,0.725)
(0.12,0.79)(0.22,0.8)(0.37,0.78)(0.5,0.795)(0.6,0.775)(0.82,0.785)(0.97,0.79)(1.07,0.8)(1.18,0.78)(1.29,0.795)(1.39,0.78)(1.5,0.8)(1.6,0.785)(1.69,0.8)
(0.11,0.82)(0.38,0.84)(0.57,0.82)(0.64,0.835)(0.96,0.87)(1.02,0.84)(1.12,0.83)(1.23,0.86)(1.35,0.84)(1.45,0.83)(1.56,0.85)(1.66,0.84)
(0.15,0.62)(0.33,0.55)(0.47,0.66)(0.7,0.57)(0.9,0.6)(1.13,0.61)(1.33,0.66)(1.55,0.61)(1.72,0.66)(0.25,0.7)(0.58,0.76)(0.83,0.72)(1.05,0.77)(1.25,0.72)(1.47,0.76)(1.65,0.71)(0.18,0.45)(0.4,0.51)(0.6,0.46)(0.8,0.52)(1.03,0.47)(1.23,0.52)(1.45,0.47)(1.65,0.52)(1.85,0.47)(0.29,0.36)(0.52,0.41)(0.72,0.36)(0.92,0.41)(1.12,0.36)(1.32,0.41)(1.52,0.36)(1.72,0.41)(0.45,0.8)(1.13,0.8)(1.56,0.78)(1.8,0.72)(1.88,0.56)(1.4,0.56)(0.05,0.41)};
\addplot[dots] coordinates {
(0.27,0.87)(1.4,0.9)(1.55,0.9)(1.6,0.935)(1.65,0.93)(1.7,0.95)(1.75,0.895)(1.95,0.915)(1.76,0.82)(2.0,0.85)(2.0,0.8)(2.1,0.78)(2.15,0.81)(2.12,0.7)(2.15,0.67)(1.9,0.74)(1.85,0.74)(1.95,0.73)(1.85,0.64)(1.95,0.585)(2.0,0.52)(2.1,0.53)(2.2,0.53)(1.95,0.5)(2.05,0.395)(2.13,0.4)(2.14,0.36)(1.96,0.33)(2.07,0.26)(2.12,0.28)(2.15,0.3)
(0,0.3)(0,0.35)(0.01,0.4)(0,0.46)(0.01,0.52)(0,0.58)(0.01,0.62)(0,0.66)(0,0.72)(0,0.76)
(2.25,0.22)(2.3,0.15)(2.35,0.12)(2.52,0.105)(2.25,0.08)(2.28,0.05)(2.3,0.02)(2.2,0.04)(2.15,0.09)(2.2,0.12)(2.1,0.15)(2.05,0.25)};
\end{axis}
\end{tikzpicture}
\end{document}
